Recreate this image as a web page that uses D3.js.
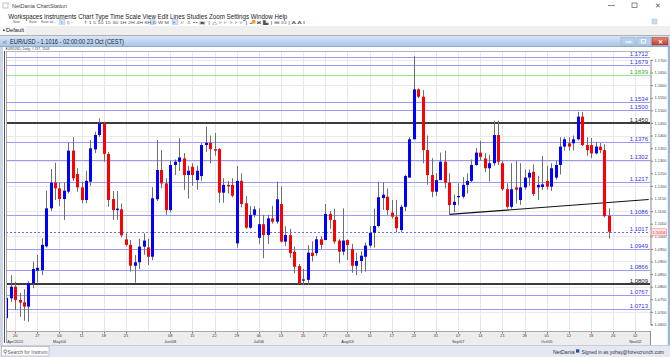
<!DOCTYPE html>
<html><head><meta charset="utf-8">
<script src="https://cdn.jsdelivr.net/npm/d3@7"></script>
<style>
html,body{margin:0;padding:0;background:#fff;overflow:hidden}
svg{display:block;font-family:"Liberation Sans",Arial,sans-serif}
</style></head><body>
<svg id="c" width="670" height="357"></svg>
<script>
// ---------------- DATA ----------------
const dates = [
"2015-04-16","2015-04-17","2015-04-20","2015-04-21","2015-04-22","2015-04-23","2015-04-24","2015-04-27","2015-04-28","2015-04-29","2015-04-30",
"2015-05-01","2015-05-04","2015-05-05","2015-05-06","2015-05-07","2015-05-08","2015-05-11","2015-05-12","2015-05-13","2015-05-14","2015-05-15","2015-05-18","2015-05-19","2015-05-20","2015-05-21","2015-05-22","2015-05-25","2015-05-26","2015-05-27","2015-05-28","2015-05-29",
"2015-06-01","2015-06-02","2015-06-03","2015-06-04","2015-06-05","2015-06-08","2015-06-09","2015-06-10","2015-06-11","2015-06-12","2015-06-15","2015-06-16","2015-06-17","2015-06-18","2015-06-19","2015-06-22","2015-06-23","2015-06-24","2015-06-25","2015-06-26","2015-06-29","2015-06-30",
"2015-07-01","2015-07-02","2015-07-03","2015-07-06","2015-07-07","2015-07-08","2015-07-09","2015-07-10","2015-07-13","2015-07-14","2015-07-15","2015-07-16","2015-07-17","2015-07-20","2015-07-21","2015-07-22","2015-07-23","2015-07-24","2015-07-27","2015-07-28","2015-07-29","2015-07-30","2015-07-31",
"2015-08-03","2015-08-04","2015-08-05","2015-08-06","2015-08-07","2015-08-10","2015-08-11","2015-08-12","2015-08-13","2015-08-14","2015-08-17","2015-08-18","2015-08-19","2015-08-20","2015-08-21","2015-08-24","2015-08-25","2015-08-26","2015-08-27","2015-08-28","2015-08-31",
"2015-09-01","2015-09-02","2015-09-03","2015-09-04","2015-09-07","2015-09-08","2015-09-09","2015-09-10","2015-09-11","2015-09-14","2015-09-15","2015-09-16","2015-09-17","2015-09-18","2015-09-21","2015-09-22","2015-09-23","2015-09-24","2015-09-25","2015-09-28","2015-09-29","2015-09-30",
"2015-10-01","2015-10-02","2015-10-05","2015-10-06","2015-10-07","2015-10-08","2015-10-09","2015-10-12","2015-10-13","2015-10-14","2015-10-15","2015-10-16","2015-10-19","2015-10-20","2015-10-21","2015-10-22","2015-10-23"];

const opens = [1.0675,1.0754,1.0800,1.0747,1.0738,1.0721,1.0813,1.0864,1.0866,1.0960,1.1111,
1.1213,1.1190,1.1148,1.1177,1.1340,1.1247,1.1194,1.1144,1.1217,1.1345,1.1402,1.1448,1.1327,1.1148,1.1104,1.1107,1.0988,1.0966,1.0883,1.0897,1.0959,
1.0956,1.0919,1.1147,1.1263,1.1210,1.1104,1.1283,1.1296,1.1309,1.1243,1.1276,1.1223,1.1239,1.1362,1.1371,1.1346,1.1346,1.1173,1.1204,1.1204,1.0972,1.1220,
1.1131,1.1034,1.1085,1.0994,1.1048,1.1005,1.1071,1.1058,1.1128,1.0979,1.1005,1.0939,1.0882,1.0824,1.0827,1.0935,1.0933,1.0988,1.0985,1.1089,1.1065,1.0983,1.0939,
1.0985,1.0950,1.0883,1.0902,1.0919,1.0963,1.1014,1.1041,1.1152,1.1157,1.1094,1.1078,1.1025,1.1117,1.1233,1.1385,1.1583,1.1554,1.1342,1.1243,1.1177,
1.1223,1.1296,1.1213,1.1124,1.1155,1.1157,1.1204,1.1220,1.1283,1.1332,1.1309,1.1270,1.1290,1.1402,1.1290,1.1187,1.1117,1.1194,1.1144,1.1194,1.1233,1.1256,
1.1194,1.1196,1.1220,1.1197,1.1233,1.1283,1.1356,1.1369,1.1369,1.1385,1.1475,1.1362,1.1362,1.1329,1.1356,1.1342,1.1082];

const highs = [1.0767,1.0846,1.0820,1.0776,1.0790,1.0822,1.0899,1.0926,1.0992,1.1181,1.1267,
1.1292,1.1213,1.1213,1.1371,1.1393,1.1270,1.1217,1.1260,1.1382,1.1415,1.1468,1.1455,1.1335,1.1180,1.1180,1.1130,1.1012,1.0985,1.0926,1.0990,1.1012,
1.0990,1.1195,1.1382,1.1342,1.1230,1.1300,1.1305,1.1389,1.1330,1.1280,1.1290,1.1280,1.1370,1.1435,1.1400,1.1410,1.1350,1.1230,1.1220,1.1230,1.1279,1.1250,
1.1160,1.1120,1.1120,1.1111,1.1085,1.1085,1.1121,1.1217,1.1198,1.1040,1.1030,1.0960,1.0890,1.0870,1.0965,1.0980,1.1000,1.1000,1.1128,1.1100,1.1110,1.0990,1.1111,
1.0988,1.0970,1.0935,1.0940,1.0975,1.1040,1.1110,1.1217,1.1215,1.1190,1.1144,1.1144,1.1125,1.1245,1.1393,1.1715,1.1587,1.1580,1.1400,1.1310,1.1250,
1.1332,1.1340,1.1250,1.1165,1.1210,1.1235,1.1250,1.1305,1.1350,1.1379,1.1330,1.1323,1.1459,1.1459,1.1300,1.1210,1.1290,1.1300,1.1290,1.1265,1.1265,1.1285,
1.1240,1.1319,1.1280,1.1290,1.1300,1.1393,1.1393,1.1393,1.1400,1.1494,1.1494,1.1393,1.1390,1.1375,1.1370,1.1365,1.1111];

const lows = [1.0662,1.0740,1.0708,1.0680,1.0665,1.0661,1.0794,1.0816,1.0846,1.0955,1.1100,
1.1144,1.1120,1.1065,1.1170,1.1220,1.1177,1.1131,1.1131,1.1200,1.1330,1.1395,1.1296,1.1117,1.1065,1.1065,1.0996,1.0960,1.0860,1.0816,1.0870,1.0926,
1.0886,1.0905,1.1140,1.1190,1.1085,1.1095,1.1243,1.1260,1.1184,1.1150,1.1200,1.1185,1.1220,1.1335,1.1290,1.1320,1.1133,1.1133,1.1170,1.1155,1.0955,1.1115,
1.1030,1.1030,1.1075,1.0970,1.0913,1.0970,1.1050,1.1050,1.0975,1.0962,1.0915,1.0853,1.0810,1.0807,1.0807,1.0900,1.0922,1.0950,1.0985,1.1030,1.0970,1.0893,1.0925,
1.0906,1.0855,1.0846,1.0855,1.0860,1.0955,1.0955,1.1035,1.1105,1.1085,1.1071,1.1016,1.1015,1.1100,1.1233,1.1385,1.1548,1.1290,1.1204,1.1155,1.1160,
1.1223,1.1190,1.1087,1.1095,1.1125,1.1150,1.1170,1.1215,1.1280,1.1300,1.1255,1.1217,1.1280,1.1283,1.1180,1.1110,1.1110,1.1130,1.1125,1.1185,1.1200,1.1160,
1.1144,1.1184,1.1185,1.1180,1.1225,1.1245,1.1340,1.1340,1.1340,1.1380,1.1358,1.1320,1.1310,1.1325,1.1330,1.1075,1.0992];

const closes = [1.0756,1.0800,1.0747,1.0737,1.0721,1.0813,1.0870,1.0875,1.0966,1.1111,1.1213,
1.1190,1.1148,1.1181,1.1340,1.1230,1.1194,1.1144,1.1220,1.1349,1.1402,1.1448,1.1327,1.1144,1.1104,1.1110,1.1004,1.0966,1.0883,1.0897,1.0959,1.0983,
1.0919,1.1151,1.1263,1.1210,1.1104,1.1283,1.1296,1.1313,1.1243,1.1260,1.1243,1.1260,1.1362,1.1371,1.1346,1.1340,1.1173,1.1204,1.1198,1.1161,1.1220,1.1128,
1.1034,1.1085,1.1107,1.1048,1.1005,1.1071,1.1058,1.1147,1.0979,1.1005,1.0933,1.0879,1.0813,1.0829,1.0935,1.0922,1.0988,1.0966,1.1089,1.1065,1.0979,1.0939,1.0983,
1.0965,1.0883,1.0902,1.0923,1.0963,1.1014,1.1041,1.1155,1.1165,1.1104,1.1078,1.1032,1.1117,1.1239,1.1385,1.1583,1.1554,1.1342,1.1243,1.1177,1.1223,
1.1296,1.1213,1.1124,1.1137,1.1160,1.1204,1.1220,1.1283,1.1332,1.1315,1.1270,1.1290,1.1402,1.1296,1.1187,1.1117,1.1187,1.1185,1.1194,1.1233,1.1252,1.1168,
1.1204,1.1206,1.1197,1.1270,1.1283,1.1356,1.1385,1.1356,1.1385,1.1475,1.1362,1.1342,1.1329,1.1356,1.1342,1.1080,1.1018];

const blueLevels  = [1.1712, 1.1679, 1.1534, 1.1500, 1.1376, 1.1302, 1.1217, 1.1086, 1.0949, 1.0866, 1.0767, 1.0713];
const greenLevels = [1.1639];
const blackLevels = [1.1450, 1.0809];
const dashedLevels = [1.1017];
const trendPoints = [["2015-09-03", 1.1087], ["2015-11-05", 1.1146]];
const lastPrice = 1.1016;

const tickDates = ["2015-04-20","2015-04-27","2015-05-04","2015-05-11","2015-05-18","2015-05-25","2015-06-01","2015-06-08","2015-06-15","2015-06-22","2015-06-29",
"2015-07-06","2015-07-13","2015-07-20","2015-07-27","2015-08-03","2015-08-10","2015-08-17","2015-08-24","2015-08-31","2015-09-07","2015-09-14","2015-09-21","2015-09-28",
"2015-10-05","2015-10-12","2015-10-19","2015-10-26","2015-11-02"];
const dayLabels = ["20","27","04","11","18","25","","08","15","22","29","06","13","20","27","03","10","17","24","31","07","14","21","28","05","12","19","26","02"];
const monthLabels = ["Apr/2015","","May/04","","","","","Jun/08","","","","Jul/06","","","","Aug/03","","","","","Sep/07","","","","Oct/05","","","","Nov/02"];
const priceTicks = [1.065,1.070,1.075,1.080,1.085,1.090,1.095,1.100,1.105,1.110,1.115,1.120,1.125,1.130,1.135,1.140,1.145,1.150,1.155,1.160,1.165,1.170];
const gridPrices = [1.07,1.08,1.09,1.10,1.11,1.12,1.13,1.14,1.15,1.16,1.17];

// ---------------- SETUP ----------------
const svg = d3.select("#c");
const PL = 6, PR = 650, PT = 51, PB = 331;
const t0 = Date.UTC(2015, 3, 16);
function bizIndex(s) {
  const t = Date.parse(s + "T00:00:00Z");
  let n = 0;
  for (let d = t0; d < t; d += 86400000) { const w = new Date(d).getUTCDay(); if (w !== 0 && w !== 6) n++; }
  return n;
}
const x = d3.scaleLinear().domain([0, 136]).range([6.3, 608.8]);
const y = d3.scaleLinear().domain([1.065, 1.17]).range([324.5, 59.9]);
const bars = dates.map((d, i) => ({d, i: bizIndex(d), o: opens[i], h: highs[i], l: lows[i], c: closes[i]}));

const defs = svg.append("defs");
const gtb = defs.append("linearGradient").attr("id","tb").attr("x1",0).attr("y1",0).attr("x2",0).attr("y2",1);
gtb.append("stop").attr("offset","0%").attr("stop-color","#d7e6f7");
gtb.append("stop").attr("offset","100%").attr("stop-color","#a9c5e7");
const gcl = defs.append("linearGradient").attr("id","cl").attr("x1",0).attr("y1",0).attr("x2",0).attr("y2",1);
gcl.append("stop").attr("offset","0%").attr("stop-color","#e8887a");
gcl.append("stop").attr("offset","100%").attr("stop-color","#c43b2c");
defs.append("clipPath").attr("id","plot").append("rect").attr("x",PL).attr("y",PT).attr("width",PR-PL).attr("height",PB-PT);

// ---------------- CHROME ----------------
svg.append("rect").attr("width",670).attr("height",357).attr("fill","#fff");
// app title
svg.append("rect").attr("x",3).attr("y",3).attr("width",5).attr("height",5).attr("fill","none").attr("stroke","#999").attr("stroke-width",0.6);
svg.append("text").attr("x",12).attr("y",8.3).attr("font-size",6.2).attr("fill","#444").attr("textLength",55).attr("lengthAdjust","spacingAndGlyphs").text("NetDania ChartStation");
svg.append("line").attr("x1",608).attr("x2",615).attr("y1",5.5).attr("y2",5.5).attr("stroke","#555").attr("stroke-width",0.7);
svg.append("rect").attr("x",632).attr("y",3).attr("width",5).attr("height",4.5).attr("fill","none").attr("stroke","#555").attr("stroke-width",0.7);
svg.append("text").attr("x",657.5).attr("y",8).attr("font-size",7).attr("fill","#555").attr("text-anchor","middle").text("✕");
// menu
svg.append("text").attr("x",8.3).attr("y",18.6).attr("font-size",7.3).attr("fill","#222").attr("textLength",279).attr("lengthAdjust","spacingAndGlyphs")
  .text("Workspaces  Instruments  Chart Type  Time Scale  View  Edit  Lines  Studies  Zoom  Settings  Window  Help");
// toolbar
const tb = svg.append("g").attr("font-size",3.4).attr("fill","#555");
tb.append("text").attr("x",13).attr("y",22.5).text("New");
tb.append("text").attr("x",29).attr("y",22.5).text("Save");
tb.append("text").attr("x",41).attr("y",22.5).text("Save as...");
svg.append("rect").attr("x",59.5).attr("y",19.5).attr("width",5.5).attr("height",5).attr("fill","#cfe2fa").attr("stroke","#8fb5e4").attr("stroke-width",0.4);
svg.append("rect").attr("x",150).attr("y",19.5).attr("width",5).attr("height",5).attr("fill","#cfe2fa").attr("stroke","#8fb5e4").attr("stroke-width",0.4);
svg.append("rect").attr("x",172).attr("y",19.5).attr("width",6).attr("height",5).attr("fill","#cfe2fa").attr("stroke","#8fb5e4").attr("stroke-width",0.4);
svg.append("text").attr("x",61).attr("y",23.6).attr("font-size",4.2).attr("fill","#2255bb").text("I");
svg.append("text").attr("x",67).attr("y",23.6).attr("font-size",4.2).attr("fill","#555").text("I|  ~");
svg.append("text").attr("x",84).attr("y",23.6).attr("font-size",3.8).attr("fill","#555").attr("textLength",85).attr("lengthAdjust","spacingAndGlyphs")
  .text("T   1   5   10  15  30  1H  2H  4H  8H  D   W   M");
svg.append("text").attr("x",172.5).attr("y",23.8).attr("font-size",4.5).attr("fill","#2255bb").text("+");
svg.append("text").attr("x",180).attr("y",23.6).attr("font-size",4).attr("fill","#555").attr("textLength",125).attr("lengthAdjust","spacingAndGlyphs")
  .text("#  ⇩  ••  ▣  |  △  ⊦  ⊦  ⊦  ⊦  ⊦  |  ↙  ✖  ▙  |  ⊞  ⊡  |  A  A  Ⅰ");
svg.append("rect").attr("x",252).attr("y",20).attr("width",3.5).attr("height",3.5).attr("fill","#f0a030");
svg.append("rect").attr("x",652).attr("y",19).attr("width",5).attr("height",5).attr("fill","#c8dcf2").attr("stroke","#9ab8dc").attr("stroke-width",0.4);
// tab row
svg.append("rect").attr("x",0).attr("y",26).attr("width",670).attr("height",9.5).attr("fill","#efefef");
svg.append("rect").attr("x",0).attr("y",26).attr("width",26).attr("height",9.5).attr("fill","#f7f7f7");
svg.append("rect").attr("x",3).attr("y",29.5).attr("width",1.6).attr("height",1.6).attr("fill","#333");
svg.append("text").attr("x",6).attr("y",32.4).attr("font-size",5.6).attr("fill","#222").attr("textLength",18).attr("lengthAdjust","spacingAndGlyphs").text("Default");
svg.append("line").attr("x1",0).attr("x2",670).attr("y1",35.5).attr("y2",35.5).attr("stroke","#b0b0b0").attr("stroke-width",1);
// chart title bar
svg.append("rect").attr("x",0).attr("y",36).attr("width",670).attr("height",10.5).attr("fill","url(#tb)");
svg.append("line").attr("x1",0).attr("x2",670).attr("y1",46.5).attr("y2",46.5).attr("stroke","#8ea9c9").attr("stroke-width",1);
svg.append("text").attr("x",2.5).attr("y",44).attr("font-size",5).attr("fill","#5a6f8c").text("ııl");
svg.append("text").attr("x",10).attr("y",43.8).attr("font-size",7.2).attr("fill","#1c2333").attr("textLength",114).attr("lengthAdjust","spacingAndGlyphs")
  .text("EUR/USD - " + lastPrice.toFixed(4) + " - 02:00:00  23 Oct (CEST)");
[[621,"#b8cfe9"],[637,"#b8cfe9"]].forEach(([bx,f]) => svg.append("rect").attr("x",bx).attr("y",37.5).attr("width",14).attr("height",7.5).attr("fill",f).attr("stroke","#8aa6c8").attr("stroke-width",0.5));
svg.append("line").attr("x1",625.5).attr("x2",631.5).attr("y1",42).attr("y2",42).attr("stroke","#fff").attr("stroke-width",1.2);
svg.append("rect").attr("x",641.5).attr("y",39.5).attr("width",4).attr("height",3.5).attr("fill","none").attr("stroke","#fff").attr("stroke-width",0.8);
svg.append("rect").attr("x",652).attr("y",37.5).attr("width",16).attr("height",7.5).attr("fill","url(#cl)").attr("stroke","#9b2a20").attr("stroke-width",0.5);
svg.append("text").attr("x",660).attr("y",43.6).attr("font-size",6).attr("fill","#fff").attr("text-anchor","middle").attr("font-weight","bold").text("✕");
// subtitle
svg.append("text").attr("x",5.5).attr("y",49.8).attr("font-size",3.6).attr("fill","#333").attr("textLength",44).attr("lengthAdjust","spacingAndGlyphs").text("EUR/USD, Daily, # 137, 1503");

// status bar
svg.append("rect").attr("x",0).attr("y",345).attr("width",670).attr("height",12).attr("fill","#e5e7f1");
svg.append("line").attr("x1",0).attr("x2",670).attr("y1",345.5).attr("y2",345.5).attr("stroke","#c7cbdb");
svg.append("rect").attr("x",1.5).attr("y",346.5).attr("width",47.5).attr("height",9.5).attr("fill","#fff").attr("stroke","#9aa3b8").attr("stroke-width",0.6);
svg.append("text").attr("x",3).attr("y",353.6).attr("font-size",5.5).attr("fill","#555").text("⚲");
svg.append("text").attr("x",7.5).attr("y",353.6).attr("font-size",5.6).attr("fill","#555").attr("textLength",40).attr("lengthAdjust","spacingAndGlyphs").text("Search for Instrum");
svg.append("text").attr("x",553).attr("y",353.5).attr("font-size",5.2).attr("fill","#333").text("NetDania");
svg.append("rect").attr("x",576).attr("y",349.3).attr("width",3.3).attr("height",3.3).attr("fill","#2a4d9b");
svg.append("text").attr("x",581.5).attr("y",353.5).attr("font-size",4.9).attr("fill","#333").text("Signed in as yohay@forexcrunch.com");

// ---------------- PLOT ----------------
svg.append("rect").attr("x",0).attr("y",47).attr("width",3).attr("height",298).attr("fill","#cdd6e6");
svg.append("rect").attr("x",667.5).attr("y",47).attr("width",2.5).attr("height",298).attr("fill","#9db6d8");
svg.append("rect").attr("x",PL).attr("y",PT).attr("width",PR-PL).attr("height",PB-PT).attr("fill","#fff");

const plot = svg.append("g").attr("clip-path","url(#plot)");
// grid
plot.selectAll(".vg").data(tickDates).join("line")
  .attr("x1", d => Math.round(x(bizIndex(d))) + 0.5).attr("x2", d => Math.round(x(bizIndex(d))) + 0.5)
  .attr("y1", PT).attr("y2", PB).attr("stroke", "#e6e6e6").attr("stroke-width", 1);
plot.selectAll(".hg").data(gridPrices).join("line")
  .attr("x1", PL).attr("x2", PR).attr("y1", d => Math.round(y(d)) + 0.5).attr("y2", d => Math.round(y(d)) + 0.5)
  .attr("stroke", "#e9e9e9").attr("stroke-width", 1);

// level lines
function levelLines(arr, color, width, labelColor, dash) {
  const g = plot.append("g");
  g.selectAll("line").data(arr).join("line")
    .attr("x1", PL).attr("x2", PR)
    .attr("y1", d => Math.round(y(d)) + (width % 2 ? 0.5 : 0)).attr("y2", d => Math.round(y(d)) + (width % 2 ? 0.5 : 0))
    .attr("stroke", color).attr("stroke-width", width).attr("stroke-dasharray", dash || null);
  g.selectAll("text").data(arr).join("text")
    .attr("x", PR - 2).attr("y", d => Math.round(y(d)) - 1)
    .attr("text-anchor", "end").attr("font-size", 6).attr("fill", labelColor)
    .text(d => d.toFixed(4));
}
levelLines(blueLevels, "#9a9af6", 1, "#3535d8");
levelLines(greenLevels, "#96e296", 1, "#3aa83a");
levelLines(dashedLevels, "#6a6af0", 1, "#3535d8", "2,2");
levelLines(blackLevels, "#3c3c3c", 2, "#222");

// trend line
plot.append("line")
  .attr("x1", x(bizIndex(trendPoints[0][0]))).attr("y1", y(trendPoints[0][1]))
  .attr("x2", x(bizIndex(trendPoints[1][0]))).attr("y2", y(trendPoints[1][1]))
  .attr("stroke", "#111").attr("stroke-width", 1.2);

// candles
const cg = plot.append("g");
cg.selectAll(".wick").data(bars).join("line")
  .attr("x1", d => Math.round(x(d.i)) + 0.5).attr("x2", d => Math.round(x(d.i)) + 0.5)
  .attr("y1", d => y(d.h)).attr("y2", d => y(d.l))
  .attr("stroke", "#6e6e6e").attr("stroke-width", 1);
cg.selectAll(".body").data(bars).join("rect")
  .attr("x", d => Math.round(x(d.i)) - 1).attr("width", 3)
  .attr("y", d => y(Math.max(d.o, d.c)))
  .attr("height", d => Math.max(1, Math.abs(y(d.o) - y(d.c))))
  .attr("fill", d => d.c >= d.o ? "#0000ff" : "#ff0000");

// frame
svg.append("line").attr("x1",PL).attr("x2",PR).attr("y1",PT+0.5).attr("y2",PT+0.5).attr("stroke","#b5b5b5");
svg.append("line").attr("x1",4.5).attr("x2",4.5).attr("y1",PT).attr("y2",343).attr("stroke","#555");
svg.append("line").attr("x1",6.5).attr("x2",6.5).attr("y1",PT).attr("y2",343).attr("stroke","#aaa");

// x-axis area
svg.append("rect").attr("x",7).attr("y",PB).attr("width",PR-7).attr("height",14).attr("fill","#ededed");
svg.append("line").attr("x1",7).attr("x2",PR).attr("y1",PB+0.5).attr("y2",PB+0.5).attr("stroke","#a8a8a8");
const xa = svg.append("g");
xa.selectAll(".tk").data(tickDates).join("line")
  .attr("x1", d => Math.round(x(bizIndex(d))) + 0.5).attr("x2", d => Math.round(x(bizIndex(d))) + 0.5)
  .attr("y1", PB + 1).attr("y2", PB + 2.5).attr("stroke", (d, i) => dayLabels[i] ? "#e05050" : "none");
xa.selectAll(".dl").data(tickDates).join("text")
  .attr("x", d => x(bizIndex(d))).attr("y", PB + 6.3).attr("text-anchor", "middle")
  .attr("font-size", 3.9).attr("fill", "#333").text((d, i) => dayLabels[i]);
xa.selectAll(".ml").data(tickDates).join("text")
  .attr("x", d => x(bizIndex(d))).attr("y", PB + 11.6).attr("text-anchor", "middle")
  .attr("font-size", 3.9).attr("fill", "#333").text((d, i) => monthLabels[i]);

// right axis
svg.append("rect").attr("x",PR).attr("y",47).attr("width",17.5).attr("height",298).attr("fill","#fff");
const ya = svg.append("g").attr("transform", `translate(${PR + 0.5},0)`)
  .call(d3.axisRight(y).tickValues(priceTicks).tickSize(2.5).tickPadding(1.5).tickFormat(d3.format(".4f")));
ya.select(".domain").attr("stroke", "#8a8a8a");
ya.selectAll(".tick line").attr("stroke", "#888");
ya.selectAll(".tick text").attr("font-size", 3.9).attr("fill", "#444").attr("font-family", "Liberation Sans, Arial, sans-serif");
svg.append("line").attr("x1",PR+0.5).attr("x2",PR+0.5).attr("y1",PB).attr("y2",345).attr("stroke","#8a8a8a");

// last price marker
const ly = y(lastPrice);
svg.append("rect").attr("x", PR + 1.5).attr("y", ly - 3.5).attr("width", 15).attr("height", 7)
  .attr("fill", "#ffe6e6").attr("stroke", "#ee8a8a").attr("stroke-width", 0.6);
svg.append("text").attr("x", PR + 9).attr("y", ly + 1.5).attr("text-anchor", "middle")
  .attr("font-size", 4.3).attr("fill", "#d22").text(lastPrice.toFixed(4));
</script>
</body></html>
